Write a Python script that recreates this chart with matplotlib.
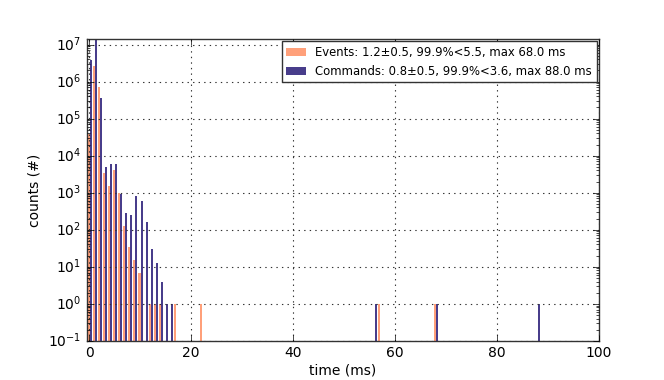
import numpy as np
import matplotlib
matplotlib.use('Agg')
import matplotlib.pyplot as plt

PLOT_OUT = 'out.png'

# latency histograms, 1 ms bins (bin index -> count)
event_bins = [0, 1, 2, 3, 4, 5, 6, 7, 8, 9, 10, 12, 13, 14, 17, 22, 57, 68]
event_counts = [3.9e4, 2.6e6, 7.1e5, 3500, 1500, 4200, 1000, 128, 34, 15, 7,
                1, 1, 1, 1, 1, 1, 1]

command_bins = [0, 1, 2, 3, 4, 5, 6, 7, 8, 9, 10, 11, 12, 13, 14, 15, 16,
                56, 68, 88]
command_counts = [3.9e6, 1.4e7, 3.6e5, 4800, 6100, 5800, 920, 280, 252, 790,
                  580, 157, 30, 13, 4, 1, 1, 1, 1, 1]

labels = ["Events: 1.2\u00b10.5, 99.9%<5.5, max 68.0 ms",
          "Commands: 0.8\u00b10.5, 99.9%<3.6, max 88.0 ms"]
colors = ['#ffa07a', '#483d8b']

plt.style.use('classic')
plt.rcParams['figure.facecolor'] = 'white'
plt.rcParams['savefig.facecolor'] = 'white'
plt.rcParams['font.size'] = 10
plt.rcParams['mathtext.fontset'] = 'dejavusans'
plt.rcParams['axes.edgecolor'] = '#333333'

fig = plt.figure(figsize=(6.64, 3.8), dpi=100)
ax = fig.add_axes([0.131, 0.103, 0.771, 0.794])

edges = np.arange(-0.4, 100.6, 1.0)
ax.hist([event_bins, command_bins], bins=edges,
        weights=[event_counts, command_counts], log=True,
        color=colors, label=labels, rwidth=0.8, linewidth=0)

ax.set_xlim(-0.4, 100)
ax.set_ylim(0.1, max(command_counts))
ax.set_xticks([0, 20, 40, 60, 80, 100])
ax.set_xlabel("time (ms)", labelpad=2)
ax.set_ylabel("counts (#)")
ax.grid(True, linestyle=':', color='#333333', linewidth=0.8)

ax.legend(loc='upper right', fontsize='small', borderaxespad=0.2,
          handlelength=1.7, fancybox=False)

fig.savefig(PLOT_OUT, dpi=100)
print("Plot saved:", PLOT_OUT)
